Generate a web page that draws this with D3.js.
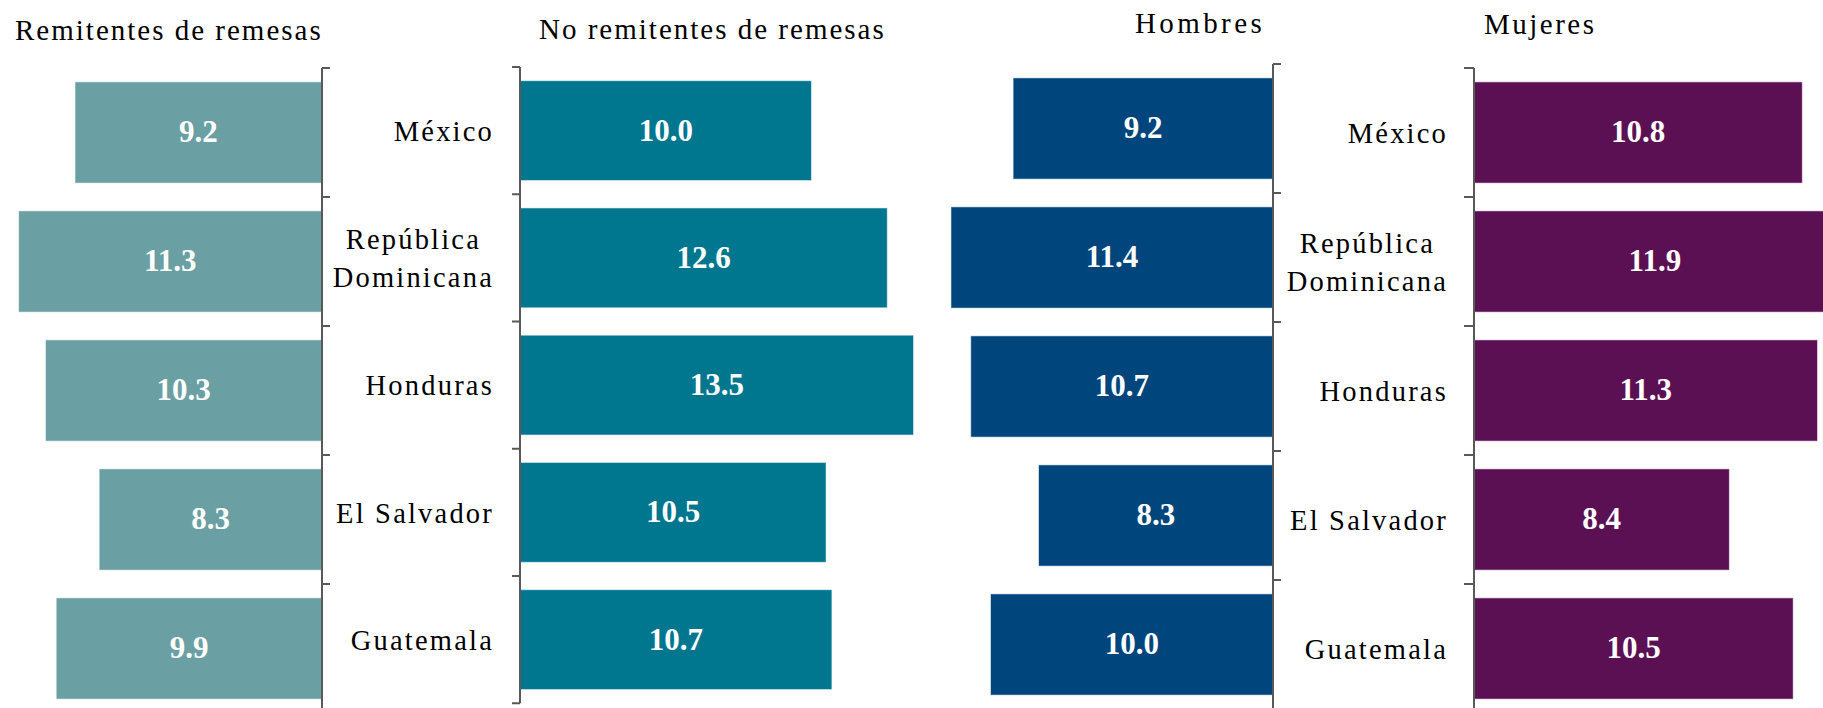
<!DOCTYPE html>
<html>
<head>
<meta charset="utf-8">
<script src="https://cdn.jsdelivr.net/npm/d3@7"></script>
<style>
  html, body { margin: 0; padding: 0; background: #ffffff; }
  svg { display: block; }
</style>
</head>
<body>
<svg id="chart" width="1823" height="708"></svg>
<script>
// ---- Data ----
const categories = ["México", "República Dominicana", "Honduras", "El Salvador", "Guatemala"];
const categoryLines = [["México"], ["República", "Dominicana"], ["Honduras"], ["El Salvador"], ["Guatemala"]];
const panelTitles = ["Remitentes de remesas", "No remitentes de remesas", "Hombres", "Mujeres"];
const remitentes = [9.2, 11.3, 10.3, 8.3, 9.9];
const noRemitentes = [10.0, 12.6, 13.5, 10.5, 10.7];
const hombres = [9.2, 11.4, 10.7, 8.3, 10.0];
const mujeres = [10.8, 11.9, 11.3, 8.4, 10.5];
const seriesValues = [remitentes, noRemitentes, hombres, mujeres];
const seriesColors = ["#6a9fa3", "#00778f", "#00457c", "#5c1054"];

// ---- Layout (positions / styles) ----
const FONT = "'Liberation Serif', 'Times New Roman', serif";
const panels = [
  { axisX: 322,  dir: -1, span: 322.2, y0: 68, y1: 713,    tick: 8,   titleX: 15,   titleY: 40, ls: 2.0, labels: false },
  { axisX: 520,  dir:  1, span: 349.8, y0: 67, y1: 703.25, tick: -8,  titleX: 539,  titleY: 39, ls: 2.0, labels: true, labelRight: 494 },
  { axisX: 1273, dir: -1, span: 339,   y0: 64, y1: 709,    tick: 8,   titleX: 1135, titleY: 33, ls: 3.4, labels: false },
  { axisX: 1474, dir:  1, span: 364.8, y0: 68, y1: 713,    tick: -10, titleX: 1484, titleY: 34, ls: 2.5, labels: true, labelRight: 1448 }
];
const xMax = 12;
const svg = d3.select("#chart");
const axisColor = "#595959";

panels.forEach((p, pi) => {
  const g = svg.append("g");
  const values = seriesValues[pi];
  const x = d3.scaleLinear().domain([0, xMax]).range([p.axisX, p.axisX + p.dir * p.span]);
  const y = d3.scaleBand().domain(categories).range([p.y0, p.y1]).paddingInner(0.215).paddingOuter(0.1075);
  const step = y.step();

  // bars
  g.selectAll("rect.bar").data(categories).join("rect")
    .attr("class", "bar")
    .attr("x", (c, i) => Math.min(x(0), x(values[i])))
    .attr("y", c => y(c))
    .attr("width", (c, i) => Math.abs(x(values[i]) - x(0)))
    .attr("height", y.bandwidth())
    .attr("fill", seriesColors[pi])
    .attr("stroke", "rgba(255,255,255,0.55)")
    .attr("stroke-width", 1);

  // value labels
  g.selectAll("text.val").data(categories).join("text")
    .attr("class", "val")
    .attr("x", (c, i) => (x(0) + x(values[i])) / 2)
    .attr("y", c => y(c) + y.bandwidth() / 2)
    .attr("dy", "0.32em")
    .attr("text-anchor", "middle")
    .attr("fill", "#ffffff")
    .attr("font-family", FONT)
    .attr("font-weight", "bold")
    .attr("font-size", 31)
    .text((c, i) => d3.format(".1f")(values[i]));

  // axis line + ticks at band boundaries
  const bounds = d3.range(categories.length + 1).map(i => p.y0 + i * step);
  g.append("line")
    .attr("x1", x(0)).attr("x2", x(0))
    .attr("y1", p.y0).attr("y2", p.y1)
    .attr("stroke", axisColor).attr("stroke-width", 2);
  g.selectAll("line.tick").data(bounds).join("line")
    .attr("class", "tick")
    .attr("x1", x(0)).attr("x2", x(0) + p.tick)
    .attr("y1", d => d).attr("y2", d => d)
    .attr("stroke", axisColor).attr("stroke-width", 2);

  // title
  g.append("text")
    .attr("x", p.titleX).attr("y", p.titleY)
    .attr("font-family", FONT)
    .attr("font-size", 29)
    .attr("letter-spacing", p.ls)
    .attr("fill", "#000")
    .text(panelTitles[pi]);

  // category labels
  if (p.labels) {
    categories.forEach((c, i) => {
      const lines = categoryLines[i];
      const cy = y(c) + y.bandwidth() / 2;
      const lh = 38;
      const t = g.append("text")
        .attr("font-family", FONT)
        .attr("font-size", 28.5)
        .attr("letter-spacing", 2.2)
        .attr("fill", "#000");
      const spans = lines.map((ln, li) => t.append("tspan")
        .attr("y", cy + (li - (lines.length - 1) / 2) * lh)
        .attr("dy", "0.36em")
        .text(ln));
      const widths = spans.map(s => s.node().getComputedTextLength());
      const maxW = d3.max(widths);
      spans.forEach(s => s.attr("x", p.labelRight - maxW / 2).attr("text-anchor", "middle"));
    });
  }
});
</script>
</body>
</html>
